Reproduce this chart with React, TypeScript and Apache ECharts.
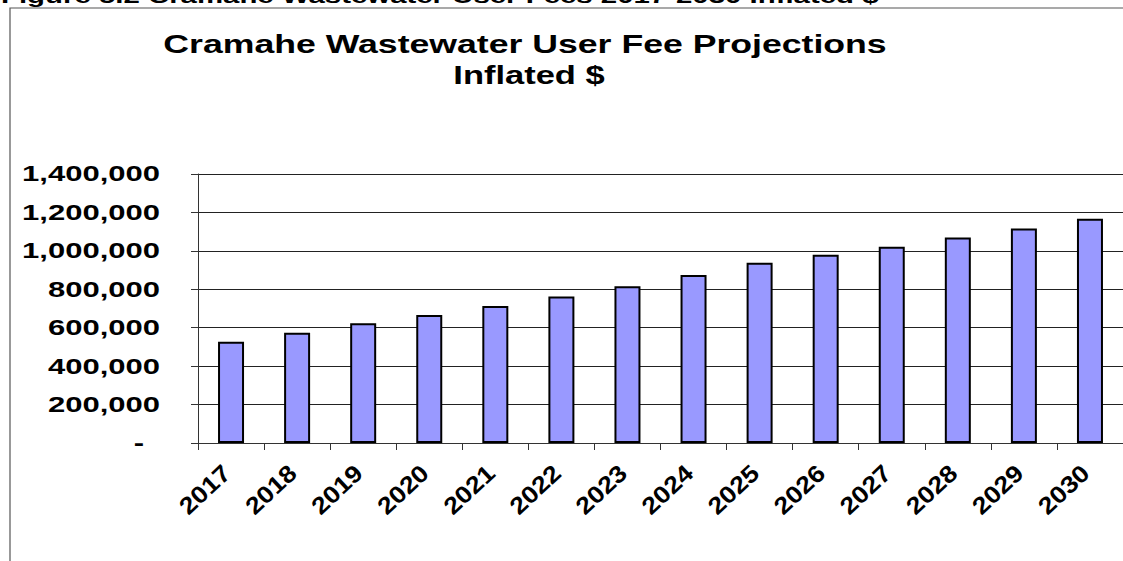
import React, { useEffect, useRef } from "react";
import * as echarts from "echarts";

const caption = "Figure 5.2 Cramahe Wastewater User Fees 2017-2030 Inflated $";
const titleLine1 = "Cramahe Wastewater User Fee Projections";
const titleLine2 = "Inflated $";

const years = [
  "2017", "2018", "2019", "2020", "2021", "2022", "2023",
  "2024", "2025", "2026", "2027", "2028", "2029", "2030",
];
const fees = [
  527000, 574000, 623000, 666000, 713000, 763000, 816000,
  874000, 938000, 980000, 1022000, 1069000, 1117000, 1167000,
];
const yTicks = [0, 200000, 400000, 600000, 800000, 1000000, 1200000, 1400000];

const STRETCH = 1.41;
const X_STRETCH = 1.12;
const FAMILY = '"Liberation Sans", Arial, sans-serif';
const LABEL_FONT = `bold 22px ${FAMILY}`;
const X_LABEL_FONT = `bold 24px ${FAMILY}`;

const fmt = (v: number) => (v === 0 ? "-" : v.toLocaleString("en-US"));

export default function App() {
  const ref = useRef<HTMLDivElement>(null);

  useEffect(() => {
    if (!ref.current) return;
    const chart = echarts.init(ref.current, undefined, { renderer: "svg" });
    chart.setOption({
      animation: false,
      backgroundColor: "#ffffff",
      graphic: [
        {
          type: "rect",
          shape: { x: 10, y: 8, width: 1400, height: 800 },
          style: { fill: "none", stroke: "#555555", lineWidth: 1.2 },
          silent: true,
        },
        {
          type: "text",
          x: 1,
          y: -4.5,
          scaleX: 1.4,
          style: {
            text: caption,
            font: `bold 21px ${FAMILY}`,
            fill: "#000000",
            align: "left",
            verticalAlign: "middle",
          },
        },
        {
          type: "text",
          x: 525,
          y: 44,
          scaleX: 1.426,
          style: {
            text: titleLine1,
            font: `bold 25px ${FAMILY}`,
            fill: "#000000",
            align: "center",
            verticalAlign: "middle",
          },
        },
        {
          type: "text",
          x: 529,
          y: 75,
          scaleX: 1.38,
          style: {
            text: titleLine2,
            font: `bold 25px ${FAMILY}`,
            fill: "#000000",
            align: "center",
            verticalAlign: "middle",
          },
        },
      ],
      grid: { left: 198, top: 174, width: 938, height: 269, containLabel: false },
      xAxis: {
        type: "category",
        data: years,
        boundaryGap: true,
        axisLine: { show: true, lineStyle: { color: "#333333", width: 1 } },
        axisTick: { show: true, interval: 0, length: 7, lineStyle: { color: "#333333" } },
        axisLabel: { show: false },
        splitLine: { show: false },
      },
      yAxis: {
        type: "value",
        min: 0,
        max: 1400000,
        interval: 200000,
        axisLine: { show: true, lineStyle: { color: "#333333", width: 1 } },
        axisTick: { show: true, length: 7, lineStyle: { color: "#333333" } },
        axisLabel: { show: false },
        splitLine: { show: true, lineStyle: { color: "#222222", width: 1 } },
      },
      series: [
        {
          type: "bar",
          data: fees,
          barWidth: 26,
          itemStyle: { color: "#9999ff", borderColor: "#000000", borderWidth: 2 },
          z: 3,
        },
        {
          type: "custom",
          data: years.map((y) => [y, 0]),
          clip: false,
          silent: true,
          z: 5,
          renderItem: (params: any, api: any) => {
            const idx = params.dataIndex;
            const pt = api.coord([api.value(0), 0]);
            return {
              type: "text",
              x: pt[0] - 4.5,
              y: pt[1] + 26,
              rotation: (43 * Math.PI) / 180,
              scaleX: X_STRETCH,
              style: {
                text: years[idx],
                font: X_LABEL_FONT,
                fill: "#000000",
                align: "right",
                verticalAlign: "middle",
              },
            };
          },
        },
        {
          type: "custom",
          data: yTicks.map((v) => [years[0], v]),
          clip: false,
          silent: true,
          z: 5,
          renderItem: (params: any, api: any) => {
            const v = yTicks[params.dataIndex];
            const pt = api.coord([0, v]);
            const left = params.coordSys.x;
            return {
              type: "text",
              x: left - 38 - (v === 0 ? 16 : 0),
              y: pt[1],
              scaleX: STRETCH,
              style: {
                text: fmt(v),
                font: LABEL_FONT,
                fill: "#000000",
                align: "right",
                verticalAlign: "middle",
              },
            };
          },
        },
      ],
    });
    return () => chart.dispose();
  }, []);

  return (
    <div
      ref={ref}
      style={{ position: "absolute", left: 0, top: 0, width: 1123, height: 561 }}
    />
  );
}
